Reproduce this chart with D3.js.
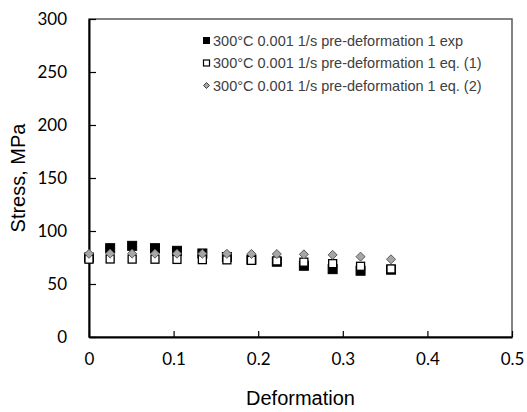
<!DOCTYPE html>
<html>
<head>
<meta charset="utf-8">
<script src="https://d3js.org/d3.v7.min.js"></script>
<style>
  html, body { margin: 0; padding: 0; background: #fff; }
  svg { display: block; }
</style>
</head>
<body>
<svg id="chart" width="527" height="412"></svg>
<script>
// Stress vs. deformation at 300°C, 0.001 1/s, pre-deformation 1
const deformation = [0, 0.025, 0.051, 0.078, 0.104, 0.134, 0.163, 0.192, 0.222, 0.254, 0.288, 0.321, 0.357];
const stressExp   = [75, 83.8, 86.0, 83.8, 81.3, 78.8, 75.5, 73.0, 71.0, 67.2, 64.0, 62.5, 63.5];
const stressEq1   = [73.4, 73.6, 73.5, 73.4, 73.2, 73.0, 72.8, 72.3, 71.8, 70.6, 69.2, 66.7, 64.2];
const stressEq2   = [78.5, 78.7, 78.7, 78.6, 78.6, 78.6, 78.5, 78.4, 78.3, 78.0, 77.5, 75.8, 73.3];
const seriesNames = [
  "300°C 0.001 1/s pre-deformation 1 exp",
  "300°C 0.001 1/s pre-deformation 1 eq. (1)",
  "300°C 0.001 1/s pre-deformation 1 eq. (2)"
];
const xTicks = [0, 0.1, 0.2, 0.3, 0.4, 0.5];
const yTicks = [0, 50, 100, 150, 200, 250, 300];

const svg = d3.select("#chart");
const plot = { left: 89, right: 512, top: 19, bottom: 337 };

const x = d3.scaleLinear().domain([0, 0.5]).range([plot.left, plot.right]);
const y = d3.scaleLinear().domain([0, 300]).range([plot.bottom, plot.top]);

// plot-area frame (top and right)
svg.append("rect")
  .attr("x", plot.left).attr("y", plot.top)
  .attr("width", plot.right - plot.left).attr("height", plot.bottom - plot.top)
  .attr("fill", "none").attr("stroke", "#595959").attr("stroke-width", 1.5);

const tickFont = "Lato, 'Open Sans', sans-serif";

// axes
const xAxis = d3.axisBottom(x).tickValues(xTicks).tickSizeInner(-6).tickSizeOuter(0)
  .tickPadding(16).tickFormat(d => d3.format("")(d));
const gx = svg.append("g").attr("transform", `translate(0,${plot.bottom})`).call(xAxis);

const yAxis = d3.axisLeft(y).tickValues(yTicks).tickSizeInner(-7).tickSizeOuter(0)
  .tickPadding(22);
const gy = svg.append("g").attr("transform", `translate(${plot.left},0)`).call(yAxis);

[gx, gy].forEach(g => {
  g.select(".domain").attr("stroke", "#000").attr("stroke-width", 2);
  g.selectAll(".tick line").attr("stroke", "#000").attr("stroke-width", 1.2);
  g.selectAll(".tick text")
    .attr("fill", "#000")
    .style("font-family", tickFont)
    .style("font-size", "17px");
});

// axis titles
svg.append("text")
  .attr("x", x(0.25)).attr("y", 405)
  .attr("text-anchor", "middle")
  .style("font-family", "'Liberation Sans', Arial, sans-serif")
  .style("font-size", "20px")
  .attr("fill", "#000")
  .text("Deformation");

svg.append("text")
  .attr("transform", `translate(25,${y(150)}) rotate(-90)`)
  .attr("text-anchor", "middle")
  .style("font-family", "'Liberation Sans', Arial, sans-serif")
  .style("font-size", "20px")
  .attr("fill", "#000")
  .text("Stress, MPa");

// data marks
const pts = (vals) => deformation.map((d, i) => ({ d, v: vals[i] }));

// experimental: filled black squares
const sExp = 9;
svg.append("g").selectAll("rect").data(pts(stressExp)).join("rect")
  .attr("x", p => x(p.d) - sExp / 2).attr("y", p => y(p.v) - sExp / 2)
  .attr("width", sExp).attr("height", sExp)
  .attr("fill", "#000").attr("stroke", "#000").attr("stroke-width", 1);

// eq. (1): open squares
const sEq1 = 8;
svg.append("g").selectAll("rect").data(pts(stressEq1)).join("rect")
  .attr("x", p => x(p.d) - sEq1 / 2).attr("y", p => y(p.v) - sEq1 / 2)
  .attr("width", sEq1).attr("height", sEq1)
  .attr("fill", "#fff").attr("stroke", "#000").attr("stroke-width", 1.3);

// eq. (2): grey diamonds
const diamond = r => `M0,${-r}L${r},0L0,${r}L${-r},0Z`;
svg.append("g").selectAll("path").data(pts(stressEq2)).join("path")
  .attr("transform", p => `translate(${x(p.d)},${y(p.v)})`)
  .attr("d", diamond(4.5))
  .attr("fill", "#a6a6a6").attr("stroke", "#595959").attr("stroke-width", 1);

// legend
const legend = svg.append("g").attr("transform", "translate(206.5,40.5)");
const rowH = 22.5;
seriesNames.forEach((name, i) => {
  const row = legend.append("g").attr("transform", `translate(0,${i * rowH})`);
  if (i === 0) {
    row.append("rect").attr("x", -3.5).attr("y", -3.5).attr("width", 7).attr("height", 7)
      .attr("fill", "#000");
  } else if (i === 1) {
    row.append("rect").attr("x", -3).attr("y", -3).attr("width", 6).attr("height", 6)
      .attr("fill", "#fff").attr("stroke", "#000").attr("stroke-width", 1.2);
  } else {
    row.append("path").attr("d", diamond(3))
      .attr("fill", "#a6a6a6").attr("stroke", "#404040").attr("stroke-width", 1);
  }
  row.append("text")
    .attr("x", 6.5).attr("y", 0).attr("dy", "0.36em")
    .style("font-family", "'Liberation Sans', Arial, sans-serif")
    .style("font-size", "14.5px")
    .attr("fill", "#404040")
    .text(name);
});
</script>
</body>
</html>
